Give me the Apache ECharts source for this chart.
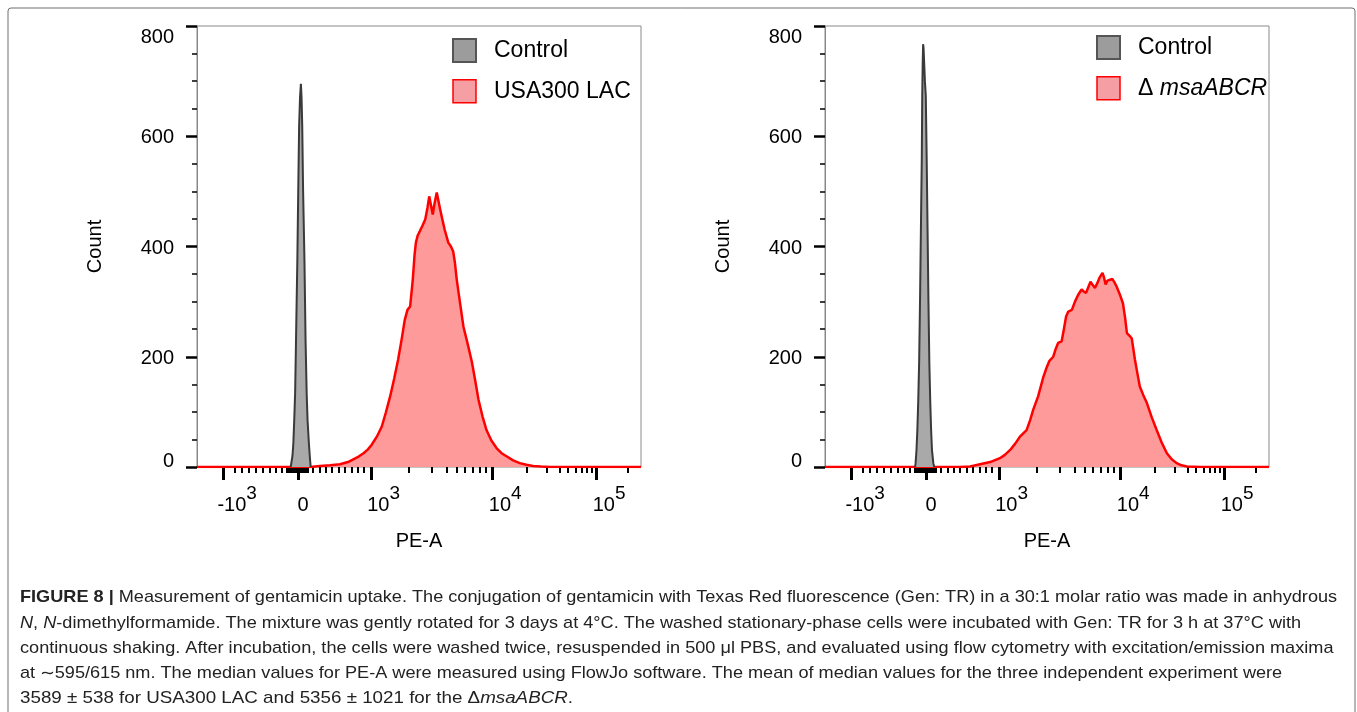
<!DOCTYPE html>
<html>
<head>
<meta charset="utf-8">
<script src="https://cdn.jsdelivr.net/npm/echarts@6/dist/echarts.min.js"></script>
<style>
  html, body { margin: 0; padding: 0; background: #fff; }
  #chart { width: 1357px; height: 712px; }
</style>
</head>
<body>
<div id="chart"></div>
<script>
// x positions are display channels (0-1000) of the biexponential PE-A axis
const xMajorPos = [60, 227, 392, 666, 900]
const xMajorBase = ['-10', '0', '10', '10', '10']
const xMajorExp = ['3', '', '3', '4', '5']
const xMajorPad = [27, 16, 25, 25, 25]
const xMinorPos = [
  86, 101, 116, 133, 149, 164, 178, 191, 203,
  205, 208, 211, 213.5, 216, 218.5, 221, 223, 225,
  229, 231, 233, 235.5, 238, 240.5, 243, 246, 249,
  261, 276, 290, 304, 319, 333, 348, 362, 376,
  476, 529, 562, 585, 604, 622, 636, 651,
  743, 788, 818, 836, 853, 866, 878, 890,
  970,
]

// USA300 LAC panel
const lacX = [0, 255, 277, 300, 322, 340, 352, 364, 375, 385, 393, 405, 416, 425, 435, 444, 453, 461, 468, 474, 480, 486, 490, 493, 497, 502, 508, 514, 519, 523, 527, 531, 535, 540, 544, 547, 551, 558, 566, 572, 577, 581, 585, 592, 600, 610, 619, 627, 634, 643, 652, 663, 675, 686, 698, 712, 727, 742, 757, 775, 795, 1000]
const lacY = [0, 0, 2, 3, 5, 9, 14, 19, 25, 32, 40, 55, 73, 98, 128, 160, 195, 232, 267, 285, 291, 340, 385, 407, 420, 428, 438, 449, 470, 491, 475, 458, 478, 498, 495, 470, 455, 430, 407, 400, 391, 370, 340, 300, 255, 222, 191, 155, 122, 92, 67, 48, 34, 25, 19, 12, 7, 4, 2, 1, 0, 0]
const ctrlLeftX = [211, 215, 217, 219, 221, 223, 226, 228, 230, 232, 234, 235.5, 237, 239, 242, 244.5, 247, 249, 252, 254, 256]
const ctrlLeftY = [0, 20, 43, 85, 134, 230, 376, 500, 619, 670, 695, 670, 619, 500, 376, 230, 134, 85, 43, 20, 0]

// ΔmsaABCR panel
const msaX = [0, 290, 304, 327, 349, 372, 394, 405, 417, 428, 439, 454, 462, 469, 480, 492, 499, 505, 514, 520, 525, 533, 538, 543, 548, 556, 563, 570, 578, 583, 588, 593, 598, 603, 608, 613, 618, 625, 628, 632, 636, 640, 647, 652, 657, 664, 671, 676, 680, 686, 691, 698, 704, 709, 717, 725, 736, 747, 758, 770, 781, 792, 803, 815, 845, 1000]
const msaY = [0, 0, 0, 1, 5, 9, 16, 22, 31, 42, 55, 67, 85, 104, 128, 164, 180, 192, 200, 215, 225, 228, 250, 273, 282, 285, 300, 312, 322, 318, 316, 326, 336, 330, 325, 333, 343, 352, 345, 331, 338, 341, 341, 335, 327, 313, 297, 270, 243, 238, 233, 195, 168, 146, 130, 116, 90, 67, 45, 25, 14, 7, 3, 1, 0, 0]
const ctrlRightX = [203, 204, 206, 208, 210, 212, 214, 216, 218, 219, 220, 221, 222, 223, 225, 227, 229, 231, 233, 235, 237, 239, 241, 244, 246]
const ctrlRightY = [0, 7, 30, 67, 120, 189, 300, 431, 560, 673, 730, 767, 760, 740, 700, 673, 560, 431, 300, 189, 120, 67, 30, 7, 0]

const captionLines = [
  '{b|FIGURE 8 |} Measurement of gentamicin uptake. The conjugation of gentamicin with Texas Red fluorescence (Gen: TR) in a 30:1 molar ratio was made in anhydrous',
  '{i|N}, {i|N}-dimethylformamide. The mixture was gently rotated for 3 days at 4°C. The washed stationary-phase cells were incubated with Gen: TR for 3 h at 37°C with',
  'continuous shaking. After incubation, the cells were washed twice, resuspended in 500 μl PBS, and evaluated using flow cytometry with excitation/emission maxima',
  'at ∼595/615 nm. The median values for PE-A were measured using FlowJo software. The mean of median values for the three independent experiment were',
  '3589 ± 538 for USA300 LAC and 5356 ± 1021 for the Δ{i|msaABCR}.',
]

const FONT = '"Liberation Sans", Arial, sans-serif'
const zip = (xs, ys) => xs.map((x, i) => [x, ys[i]])

const chart = echarts.init(document.getElementById('chart'), null, { renderer: 'canvas' })

const grids = [
  { left: 197, top: 26, width: 444, height: 441 },
  { left: 825, top: 26, width: 444, height: 441 },
]

function majorLabel(value) {
  let i = 0
  xMajorPos.forEach((p, k) => {
    if (Math.abs(p - value) < Math.abs(xMajorPos[i] - value)) i = k
  })
  return `{p${xMajorPad[i]}| }{b|${xMajorBase[i]}}{s|${xMajorExp[i] || ' '}}`
}

const padRich = {}
xMajorPad.forEach((w) => {
  padRich['p' + w] = { width: w, fontSize: 20 }
})

// FlowJo keeps the end labels inside the plot height
function countLabel(value) {
  if (value === 0) return '{lo|0}'
  if (value === 800) return '{hi|800}'
  return `{n|${value}}`
}

function xAxesFor(gridIndex) {
  return [
    {
      type: 'value',
      gridIndex,
      min: 0,
      max: 1000,
      position: 'bottom',
      axisLine: { show: false },
      splitLine: { show: false },
      axisTick: { show: true, customValues: xMajorPos, length: 13, lineStyle: { color: '#000', width: 3 } },
      axisLabel: {
        customValues: xMajorPos,
        margin: 17,
        formatter: majorLabel,
        rich: {
          ...padRich,
          b: { fontSize: 20, color: '#000', fontFamily: FONT },
          s: { fontSize: 19, color: '#000', fontFamily: FONT, padding: [0, 0, 24, 0] },
        },
      },
      name: 'PE-A',
      nameLocation: 'middle',
      nameGap: 64,
      nameTextStyle: { fontSize: 20, color: '#000', fontFamily: FONT },
    },
    {
      type: 'value',
      gridIndex,
      min: 0,
      max: 1000,
      position: 'bottom',
      axisLine: { show: false },
      splitLine: { show: false },
      axisTick: { show: true, customValues: xMinorPos, length: 6, lineStyle: { color: '#000', width: 2 } },
      axisLabel: { show: false },
    },
  ]
}

function yAxisFor(gridIndex) {
  const txt = { fontSize: 20, color: '#000', fontFamily: FONT }
  return {
    type: 'value',
    gridIndex,
    min: 0,
    max: 800,
    interval: 200,
    axisLine: { show: true, lineStyle: { color: '#888', width: 1 } },
    axisTick: { show: true, length: 11, lineStyle: { color: '#000', width: 2.5 } },
    minorTick: { show: true, splitNumber: 4, length: 5, lineStyle: { color: '#000', width: 1.5 } },
    splitLine: { show: false },
    axisLabel: {
      ...txt,
      margin: 23,
      formatter: countLabel,
      rich: {
        n: { ...txt, padding: [3, 0, 0, 0] },
        lo: { ...txt, padding: [0, 0, 12, 0] },
        hi: { ...txt, padding: [23, 0, 0, 0] },
      },
    },
    name: 'Count',
    nameLocation: 'middle',
    nameGap: 92,
    nameTextStyle: { fontSize: 20, color: '#000', fontFamily: FONT },
  }
}

function histSeries(name, data, xAxisIndex, yAxisIndex, fill, stroke, width, z) {
  return {
    name,
    type: 'line',
    xAxisIndex,
    yAxisIndex,
    data,
    symbol: 'none',
    showSymbol: false,
    animation: false,
    z,
    itemStyle: { color: fill },
    lineStyle: { color: stroke, width },
    areaStyle: { color: fill, opacity: 1 },
  }
}

const legendBase = {
  orient: 'vertical',
  icon: 'rect',
  itemWidth: 23,
  itemHeight: 23,
  itemGap: 16,
  selectedMode: false,
  textStyle: {
    fontSize: 23,
    color: '#000',
    fontFamily: FONT,
    padding: [0, 0, 0, 13],
    rich: {
      d: { fontSize: 23, color: '#000', fontFamily: FONT },
      i: { fontSize: 23, color: '#000', fontFamily: FONT, fontStyle: 'italic' },
    },
  },
  formatter: (name) => (name === 'ΔmsaABCR' ? '{d|Δ }{i|msaABCR}' : name),
}

const grayItem = { color: '#9c9c9c', borderColor: '#555', borderWidth: 2 }
const redItem = { color: '#f59ea4', borderColor: '#ff0000', borderWidth: 1.5 }

const caption = captionLines.map((line, i) => ({
  type: 'text',
  x: 20,
  y: 598 + i * 25.2,
  scaleX: i === 4 ? 1.16 : 1.12,
  silent: true,
  style: {
    text: line,
    fontSize: 16.2,
    fontFamily: FONT,
    fill: '#222',
    verticalAlign: 'middle',
    rich: {
      b: { fontSize: 16.2, fontFamily: FONT, fontWeight: 'bold', fill: '#222', color: '#222' },
      i: { fontSize: 16.2, fontFamily: FONT, fontStyle: 'italic', fill: '#222', color: '#222' },
    },
  },
}))

chart.setOption({
  animation: false,
  backgroundColor: '#fff',
  textStyle: { fontFamily: FONT },
  grid: grids.map((g) => ({ ...g, show: true, borderColor: '#8a8a8a', borderWidth: 1, backgroundColor: 'transparent' })),
  xAxis: [...xAxesFor(0), ...xAxesFor(1)],
  yAxis: [yAxisFor(0), yAxisFor(1)],
  legend: [
    {
      ...legendBase,
      left: 447,
      top: 33,
      data: [
        { name: 'Control', itemStyle: grayItem },
        { name: 'USA300 LAC', itemStyle: redItem },
      ],
    },
    {
      ...legendBase,
      left: 1091,
      top: 30,
      data: [
        { name: 'Control', itemStyle: grayItem },
        { name: 'ΔmsaABCR', itemStyle: redItem },
      ],
    },
  ],
  series: [
    histSeries('USA300 LAC', zip(lacX, lacY), 0, 0, '#ff9a9a', '#ff0000', 2.5, 2),
    histSeries('Control', zip(ctrlLeftX, ctrlLeftY), 0, 0, '#a9a9a9', '#3a3a3a', 2, 3),
    histSeries('ΔmsaABCR', zip(msaX, msaY), 2, 1, '#ff9a9a', '#ff0000', 2.5, 2),
    histSeries('Control', zip(ctrlRightX, ctrlRightY), 2, 1, '#a9a9a9', '#3a3a3a', 2, 3),
  ],
  graphic: [
    {
      type: 'rect',
      silent: true,
      shape: { x: 8, y: 8, width: 1347, height: 712, r: 3 },
      style: { fill: 'none', stroke: '#6f6f6f', lineWidth: 1 },
    },
    ...caption,
  ],
})
</script>
</body>
</html>
